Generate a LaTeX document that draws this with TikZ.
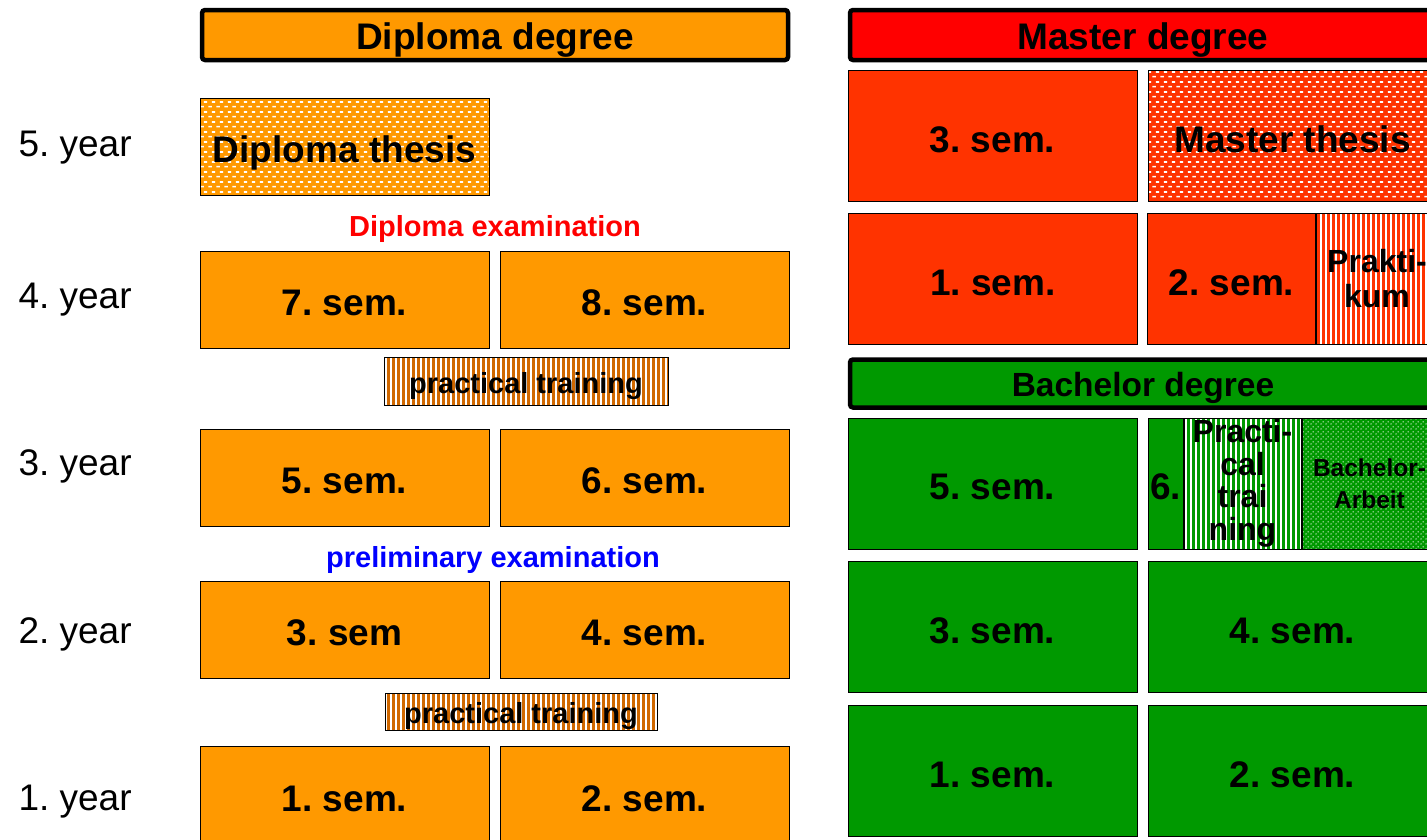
\documentclass[tikz,border=0pt]{standalone}
\usepackage{fontspec}
\setmainfont{Liberation Sans}
\usetikzlibrary{patterns,positioning}
\frenchspacing

\definecolor{dorange}{HTML}{FF9900}
\definecolor{pbrown}{HTML}{D06800}
\definecolor{mred}{HTML}{FF0000}
\definecolor{sred}{HTML}{FF3300}
\definecolor{bgreen}{HTML}{009900}

% fill patterns of the thesis and training boxes
\pgfdeclarepatternformonly{whitedashes}{\pgfqpoint{0pt}{0pt}}{\pgfqpoint{8pt}{10pt}}{\pgfqpoint{8pt}{10pt}}{%
  \pgfpathrectangle{\pgfqpoint{0.3pt}{1.8pt}}{\pgfqpoint{4pt}{1.7pt}}%
  \pgfpathrectangle{\pgfqpoint{4.3pt}{6.8pt}}{\pgfqpoint{3.6pt}{1.7pt}}%
  \pgfusepath{fill}}
\pgfdeclarepatternformonly{vstripes}{\pgfqpoint{0pt}{-0.5pt}}{\pgfqpoint{5pt}{5.5pt}}{\pgfqpoint{5pt}{5pt}}{%
  \pgfpathrectangle{\pgfqpoint{0pt}{-0.5pt}}{\pgfqpoint{2.2pt}{6pt}}%
  \pgfusepath{fill}}
\pgfdeclarepatternformonly{smalldots}{\pgfqpoint{0pt}{0pt}}{\pgfqpoint{5pt}{5pt}}{\pgfqpoint{5pt}{5pt}}{%
  \pgfpathcircle{\pgfqpoint{1.25pt}{1.25pt}}{0.8pt}%
  \pgfpathcircle{\pgfqpoint{3.75pt}{3.75pt}}{0.8pt}%
  \pgfusepath{fill}}

\newcommand{\bigfont}{\bfseries\fontsize{37}{40}\selectfont}
\newcommand{\smallfont}{\bfseries\fontsize{29}{32}\selectfont}

\begin{document}
\begin{tikzpicture}[x=1pt, y=-1pt,
  box/.style={draw, line width=1pt, inner sep=0pt, minimum width=289pt, minimum height=97pt, font=\bigfont},
  semester/.style={box, text height=32pt, text depth=0pt},
  tall/.style={semester, minimum height=131pt},
  tallbox/.style={box, minimum height=131pt, align=center},
  degree/.style={draw, line width=4.5pt, rounded corners=3pt, inner sep=0pt, minimum width=586pt, minimum height=50pt,
    text height=29pt, text depth=0pt, font=\bigfont},
  training/.style={draw, line width=1pt, inner sep=0pt, preaction={fill=pbrown}, pattern=vstripes, pattern color=white,
    text height=24pt, text depth=0pt, font=\smallfont},
  exam/.style={font=\smallfont},
  yearlabel/.style={anchor=west, font=\fontsize{37}{40}\selectfont}]

\path[use as bounding box] (0,0) rectangle (1427,839);
\clip (0,0) rectangle (1427,839);

%years
\node[yearlabel] (y5) at (15,148) {5. year};
\node[yearlabel] (y4) at (15,300) {4. year};
\node[yearlabel] (y3) at (15,466) {3. year};
\node[yearlabel] (y2) at (15,634) {2. year};
\node[yearlabel] (y1) at (15,802) {1. year};

%diploma
\node[degree, fill=dorange] (dipdeg) at (495,35) {Diploma degree};
\node[semester, preaction={fill=dorange}, pattern=whitedashes, pattern color=white] (dipthesis) at (344.5,146.5) {Diploma thesis};
\node[exam, text=mred] (dipexam) at (495,229) {Diploma examination};
\node[semester, fill=dorange] (d7) at (344.5,299.5) {7. sem.};
\node[semester, fill=dorange, right=10pt of d7] (d8) {8. sem.};
\node[training, minimum width=284pt, minimum height=48pt] (prac1) at (526,381) {practical training};
\node[semester, fill=dorange] (d5) at (344.5,477.5) {5. sem.};
\node[semester, fill=dorange, right=10pt of d5] (d6) {6. sem.};
\node[exam, text=blue] (prelim) at (493,560) {preliminary examination};
\node[semester, fill=dorange] (d3) at (344.5,629.5) {3. sem};
\node[semester, fill=dorange, right=10pt of d3] (d4) {4. sem.};
\node[training, minimum width=272pt, minimum height=37pt] (prac2) at (521,711.5) {practical training};
\node[semester, fill=dorange] (d1) at (344.5,795) {1. sem.};
\node[semester, fill=dorange, right=10pt of d1] (d2) {2. sem.};

%master
\node[degree, fill=mred] (masdeg) at (1143,35) {Master degree};
\node[tall, fill=sred] (m3) at (992.5,136) {3. sem.};
\node[tall, preaction={fill=sred}, pattern=whitedashes, pattern color=white, right=10pt of m3] (mthesis) {Master thesis};
\node[tall, fill=sred] (m1) at (993,279) {1. sem.};
\node[tall, fill=sred, minimum width=168pt, right=9pt of m1] (m2) {2. sem.};
\node[tallbox, preaction={fill=sred}, pattern=vstripes, pattern color=white, minimum width=121pt, right=0pt of m2,
  font=\bfseries\fontsize{32}{35}\selectfont] (prakt) {Prakti-\\kum};

%bachelor
\node[degree, fill=bgreen, minimum height=48pt, text height=26pt, font=\bfseries\fontsize{33.5}{36}\selectfont] (bachdeg) at (1143,383.5) {Bachelor degree};
\node[tall, fill=bgreen] (b5) at (992.5,483.5) {5. sem.};
\node[tall, fill=bgreen, minimum width=35pt, right=10pt of b5] (b6) {6.};
\node[tallbox, preaction={fill=bgreen}, pattern=vstripes, pattern color=white, minimum width=117pt, right=0pt of b6,
  font=\bfseries\fontsize{32}{32.5}\selectfont] (bprac) {Practi-\\cal\\trai\\ning};
\node[tallbox, preaction={fill=bgreen}, pattern=smalldots, pattern color=white, minimum width=135pt, right=0pt of bprac,
  font=\bfseries\fontsize{24.5}{32}\selectfont] (barbeit) {Bachelor-\\Arbeit};
\node[tall, fill=bgreen] (b3) at (992.5,627) {3. sem.};
\node[tall, fill=bgreen, right=10pt of b3] (b4) {4. sem.};
\node[tall, fill=bgreen] (b1) at (992.5,771) {1. sem.};
\node[tall, fill=bgreen, right=10pt of b1] (b2) {2. sem.};

\end{tikzpicture}
\end{document}
